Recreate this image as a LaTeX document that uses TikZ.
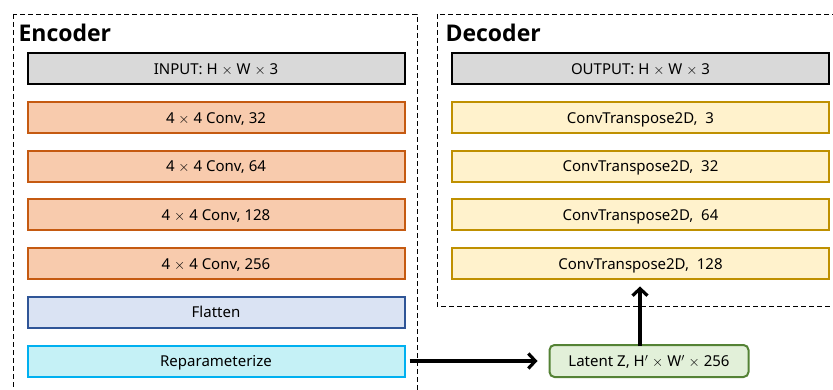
\documentclass[tikz,border=0pt]{standalone}
\usepackage{fontspec}
\setmainfont{Noto Sans}
\newfontfamily\titlefont{Open Sans}
\usetikzlibrary{arrows.meta}
\definecolor{ingray}{HTML}{D9D9D9}
\definecolor{convfill}{HTML}{F8CBAD}
\definecolor{convline}{HTML}{C55A11}
\definecolor{tconvfill}{HTML}{FFF2CC}
\definecolor{tconvline}{HTML}{BF9000}
\definecolor{flatfill}{HTML}{DAE3F3}
\definecolor{flatline}{HTML}{2F5597}
\definecolor{repfill}{HTML}{C5F1F6}
\definecolor{repline}{HTML}{00B0F0}
\definecolor{latfill}{HTML}{E2F0D9}
\definecolor{latline}{HTML}{548235}
\tikzset{
  layer/.style={draw, line width=2pt, minimum width=377pt, minimum height=31pt, inner sep=0pt,
    text height=13pt, text depth=2.5pt, font=\fontsize{15}{17}\selectfont},
  iolayer/.style={layer, fill=ingray, draw=black},
  convlayer/.style={layer, fill=convfill, draw=convline},
  tconvlayer/.style={layer, fill=tconvfill, draw=tconvline},
  group/.style={draw, line width=0.9pt, dash pattern=on 5pt off 3pt},
  grouptitle/.style={anchor=west, font=\titlefont\fontsize{23}{25}\selectfont\bfseries},
  flow/.style={line width=3.2pt, -{Straight Barb[length=7pt,width=15pt,line width=3.2pt]}}
}
\begin{document}
\begin{tikzpicture}[x=1pt,y=-1pt]
  \useasboundingbox (0,0) rectangle (833,390);
  \clip (0,0) rectangle (833,390);
  \draw[group] (13,14) rectangle (417,400);
  \draw[group] (437,14) rectangle (845,306);
  \node[grouptitle] (enctitle) at (15,33) {Encoder};
  \node[grouptitle] (dectitle) at (442,33) {Decoder};
  % encoder
  \node[iolayer] (input) at (216,69) {INPUT: H $\times$ W $\times$ 3};
  \node[convlayer] (conva) at (216,118) {4 $\times$ 4 Conv, 32};
  \node[convlayer] (convb) at (216,166.5) {4 $\times$ 4 Conv, 64};
  \node[convlayer] (convc) at (216,215) {4 $\times$ 4 Conv, 128};
  \node[convlayer] (convd) at (216,264) {4 $\times$ 4 Conv, 256};
  \node[layer, fill=flatfill, draw=flatline] (flatten) at (216,312) {Flatten};
  \node[layer, fill=repfill, draw=repline] (reparam) at (216,361) {Reparameterize};
  % decoder
  \node[iolayer] (output) at (640.5,69) {OUTPUT: H $\times$ W $\times$ 3};
  \node[tconvlayer] (tconva) at (640.5,118) {ConvTranspose2D,\ \ 3};
  \node[tconvlayer] (tconvb) at (640.5,166.5) {ConvTranspose2D,\ \ 32};
  \node[tconvlayer] (tconvc) at (640.5,215) {ConvTranspose2D,\ \ 64};
  \node[tconvlayer] (tconvd) at (640.5,264) {ConvTranspose2D,\ \ 128};
  % latent
  \node[draw=latline, fill=latfill, line width=2pt, rounded corners=5pt, minimum width=199pt, minimum height=32pt, inner sep=0pt,
    text height=13pt, text depth=2.5pt, font=\fontsize{15}{17}\selectfont] (latent) at (649,361) {Latent Z, H$'$ $\times$ W$'$ $\times$ 256};
  \draw[flow] ([xshift=4pt]reparam.east) -- ([xshift=-11pt]latent.west);
  \draw[flow] ([xshift=-9pt,yshift=-2pt]latent.north) -- ([xshift=-9pt,yshift=-6pt]latent.north |- tconvd.south);
\end{tikzpicture}
\end{document}
